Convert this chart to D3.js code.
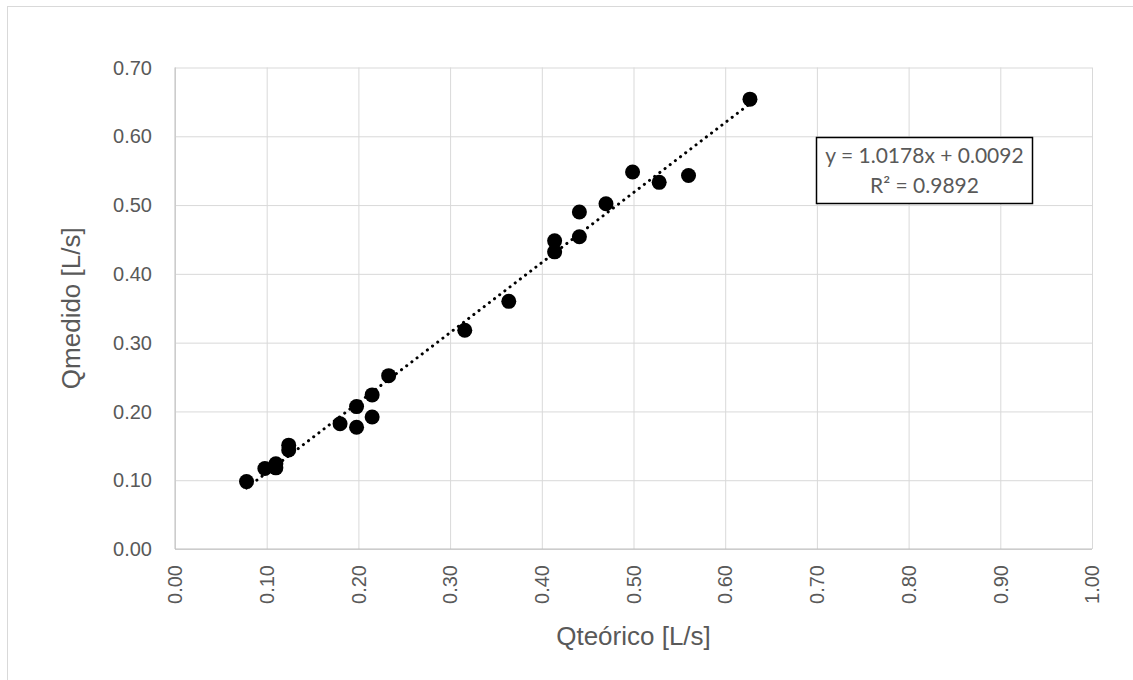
<!DOCTYPE html>
<html>
<head>
<meta charset="utf-8">
<script src="https://cdn.jsdelivr.net/npm/d3@7"></script>
<style>
  body { margin: 0; background: white; }
  text { font-family: "Liberation Sans", Arial, sans-serif; fill: #595959; }
</style>
</head>
<body>
<div id="chart"></div>
<script>
const qTeorico = [0.078, 0.098, 0.110, 0.110, 0.124, 0.124, 0.180, 0.198, 0.198, 0.215, 0.215, 0.233,
                  0.316, 0.364, 0.414, 0.414, 0.441, 0.441, 0.470, 0.499, 0.528, 0.560, 0.627];
const qMedido  = [0.098, 0.117, 0.124, 0.118, 0.151, 0.144, 0.182, 0.207, 0.177, 0.224, 0.192, 0.252,
                  0.318, 0.360, 0.448, 0.432, 0.490, 0.454, 0.502, 0.548, 0.533, 0.543, 0.654];
const xTicks = [0, 0.1, 0.2, 0.3, 0.4, 0.5, 0.6, 0.7, 0.8, 0.9, 1.0];
const yTicks = [0, 0.1, 0.2, 0.3, 0.4, 0.5, 0.6, 0.7];
const trend = { slope: 1.0178, intercept: 0.0092, r2: 0.9892 };

const width = 1133, height = 680;
const margin = { left: 175, right: 41, top: 67.5, bottom: 131 };

const svg = d3.select("#chart")
  .append("svg")
    .attr("width", width)
    .attr("height", height)
    .style("display", "block");

// chart frame (right/bottom fall off the window)
svg.append("rect")
  .attr("x", 7.5).attr("y", 6.5)
  .attr("width", width).attr("height", height)
  .attr("fill", "white")
  .attr("stroke", "#d9d9d9");

const x = d3.scaleLinear().domain([0, 1]).range([margin.left, width - margin.right]);
const y = d3.scaleLinear().domain([0, 0.7]).range([height - margin.bottom, margin.top]);

// grid
svg.append("g")
  .attr("transform", `translate(0,${y(0)})`)
  .call(d3.axisBottom(x).tickValues(xTicks).tickSize(-(y(0) - y(0.7))).tickFormat(""))
  .call(g => g.select(".domain").remove())
  .call(g => g.selectAll("line").attr("stroke", "#d9d9d9"));

svg.append("g")
  .attr("transform", `translate(${x(0)},0)`)
  .call(d3.axisLeft(y).tickValues(yTicks).tickSize(-(x(1) - x(0))).tickFormat(""))
  .call(g => g.select(".domain").remove())
  .call(g => g.selectAll("line").attr("stroke", "#d9d9d9"));

// axis lines
svg.append("line")
  .attr("x1", x(0)).attr("x2", x(1))
  .attr("y1", y(0)).attr("y2", y(0))
  .attr("stroke", "#bfbfbf");
svg.append("line")
  .attr("x1", x(0)).attr("x2", x(0))
  .attr("y1", y(0)).attr("y2", y(0.7))
  .attr("stroke", "#bfbfbf");

// y tick labels
svg.append("g").selectAll("text")
  .data(yTicks)
  .join("text")
    .attr("x", x(0) - 23)
    .attr("y", d => y(d))
    .attr("dy", "0.36em")
    .attr("text-anchor", "end")
    .style("font-size", "20px")
    .text(d => d3.format(".2f")(d));

// x tick labels, rotated
svg.append("g").selectAll("text")
  .data(xTicks)
  .join("text")
    .attr("transform", d => `translate(${x(d)},${y(0) + 16}) rotate(-90)`)
    .attr("dy", "0.36em")
    .attr("text-anchor", "end")
    .style("font-size", "20px")
    .text(d => d3.format(".2f")(d));

// axis titles
svg.append("text")
  .attr("x", (x(0) + x(1)) / 2)
  .attr("y", 645)
  .attr("text-anchor", "middle")
  .style("font-size", "26px")
  .text("Qteórico [L/s]");

svg.append("text")
  .attr("transform", `translate(80,${(y(0) + y(0.7)) / 2}) rotate(-90)`)
  .attr("text-anchor", "middle")
  .style("font-size", "26px")
  .text("Qmedido [L/s]");

// trendline over data range
const xMin = d3.min(qTeorico), xMax = d3.max(qTeorico);
svg.append("line")
  .attr("x1", x(xMin)).attr("y1", y(trend.slope * xMin + trend.intercept))
  .attr("x2", x(xMax)).attr("y2", y(trend.slope * xMax + trend.intercept))
  .attr("stroke", "black")
  .attr("stroke-width", 3)
  .attr("stroke-linecap", "round")
  .attr("stroke-dasharray", "0.1 6.4");

// points
svg.append("g").selectAll("circle")
  .data(qTeorico.map((d, i) => [d, qMedido[i]]))
  .join("circle")
    .attr("cx", d => x(d[0]))
    .attr("cy", d => y(d[1]))
    .attr("r", 7.5)
    .attr("fill", "black");

// equation label
const box = svg.append("g");
box.append("rect")
  .attr("x", 816.5).attr("y", 137.5)
  .attr("width", 216).attr("height", 66)
  .attr("fill", "white")
  .attr("stroke", "black")
  .attr("stroke-width", 1.5);
box.append("text")
  .attr("x", 924.5).attr("y", 163)
  .attr("text-anchor", "middle")
  .style("font-family", "Lato, 'Liberation Sans', sans-serif")
  .style("font-size", "21px")
  .text(`y = ${trend.slope}x + ${trend.intercept}`);
box.append("text")
  .attr("x", 924.5).attr("y", 193)
  .attr("text-anchor", "middle")
  .style("font-family", "Lato, 'Liberation Sans', sans-serif")
  .style("font-size", "21px")
  .text(`R² = ${trend.r2}`);
</script>
</body>
</html>
